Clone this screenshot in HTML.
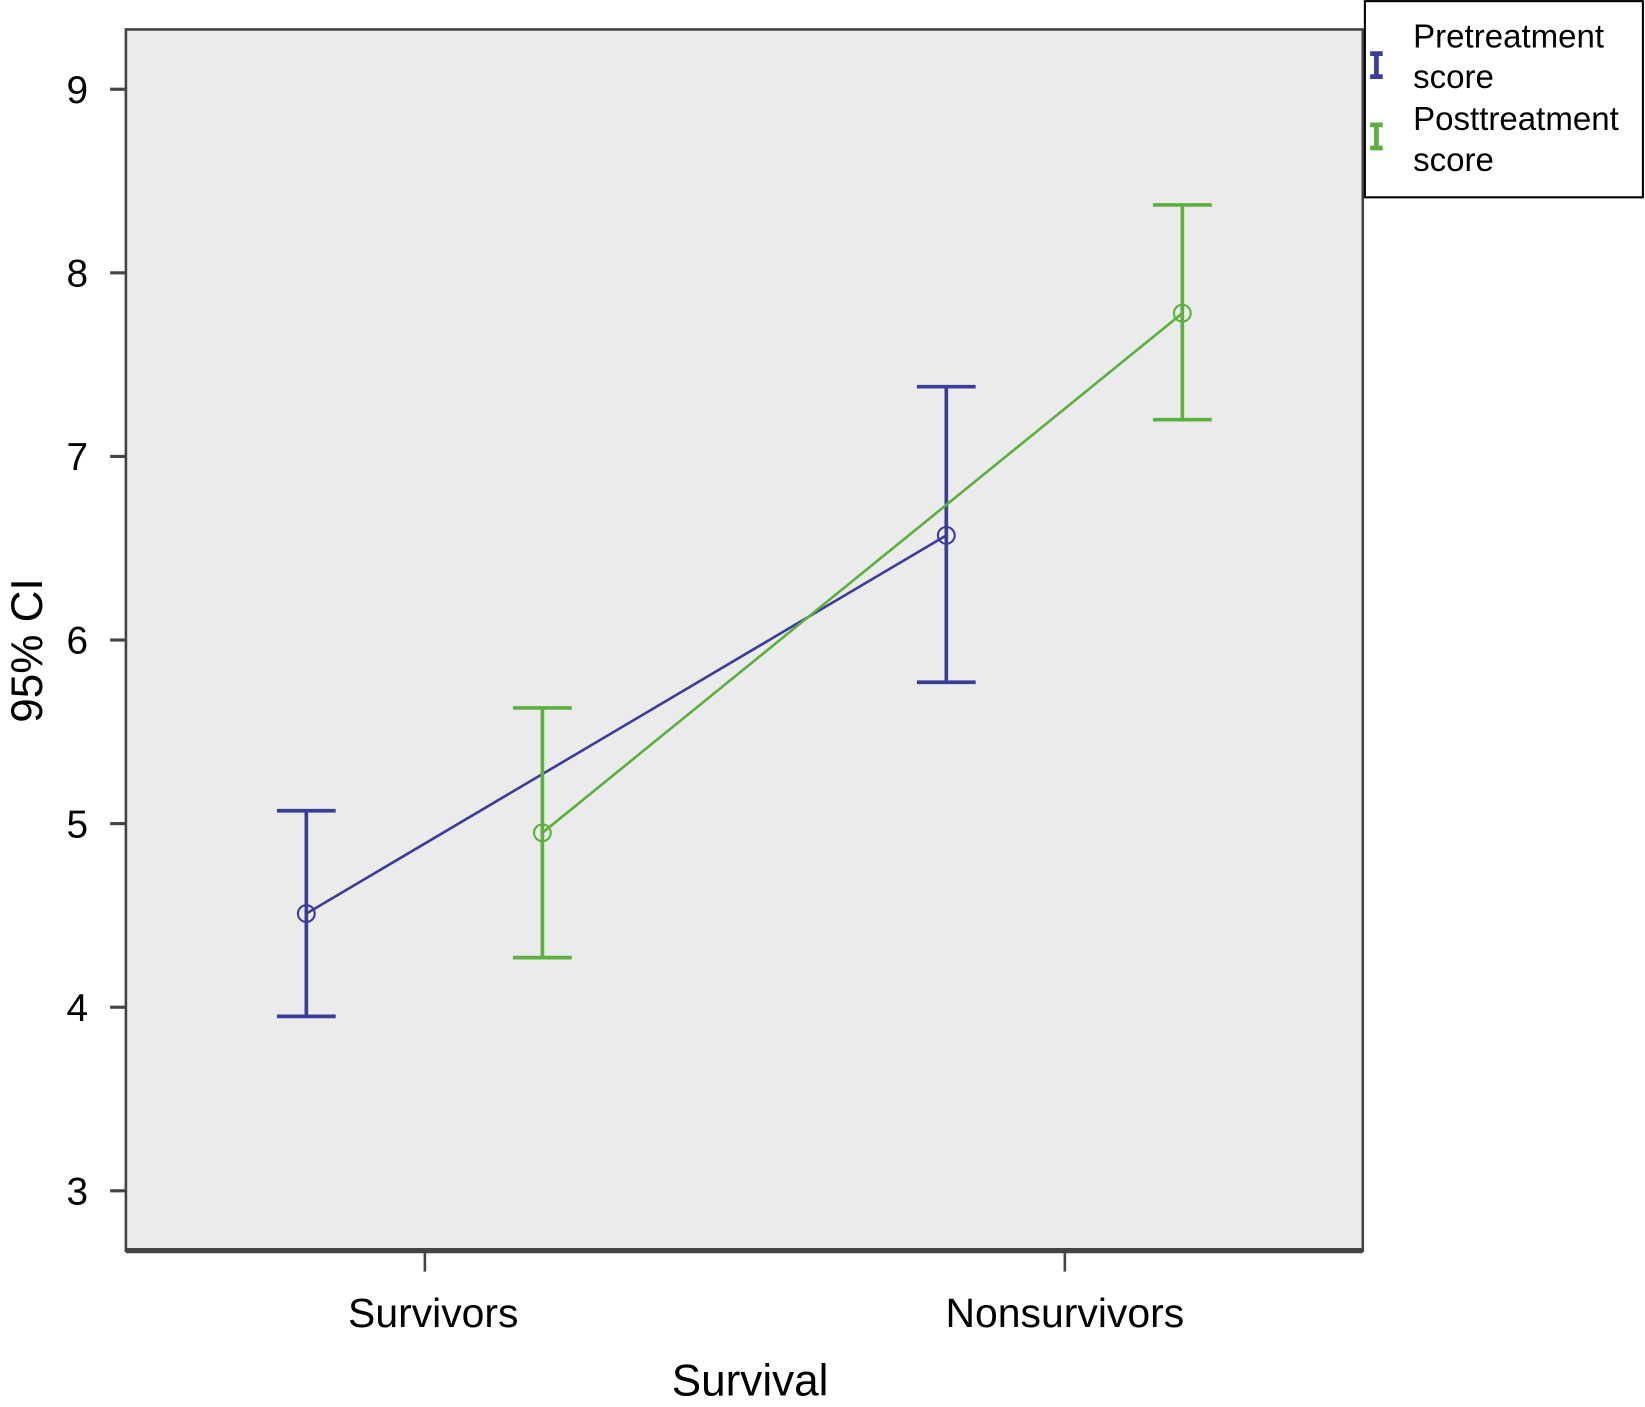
<!DOCTYPE html>
<html><head><meta charset="utf-8"><style>
html,body{margin:0;padding:0;background:#fff;}
svg{display:block;font-family:"Liberation Sans",sans-serif;}
</style></head><body>
<svg id="chart" width="1645" height="1407" viewBox="0 0 1568 1341">
<rect x="120" y="28" width="1179" height="1164" fill="#ebebeb" stroke="#444" stroke-width="2.5"/>
<line x1="120" y1="1192" x2="1299" y2="1192" stroke="#444" stroke-width="5"/>
<g id="yaxis"></g>
<g id="xaxis"></g>
<g id="series"></g>
<text transform="translate(40,620) rotate(-90)" text-anchor="middle" font-size="42">95% CI</text>
<text x="715" y="1330" text-anchor="middle" font-size="42">Survival</text>
<g>
<rect x="1301" y="1" width="265" height="187" fill="#fff" stroke="#000" stroke-width="2"/>
<g>
<path d="M1306 51h12M1312 51v22M1306 73h12" stroke="#3b3d9b" stroke-width="4.5" fill="none"/>
<text x="1347" y="45" font-size="31.5">Pretreatment</text>
<text x="1347" y="84" font-size="31.5">score</text>
</g>
<g>
<path d="M1306 119h12M1312 119v22M1306 141h12" stroke="#5cb040" stroke-width="4.5" fill="none"/>
<text x="1347" y="124" font-size="31.5">Posttreatment</text>
<text x="1347" y="163" font-size="31.5">score</text>
</g>
</g>
</svg>
<script>
const categories = ["Survivors", "Nonsurvivors"];
const yTicks = [3, 4, 5, 6, 7, 8, 9];
const seriesNames = ["Pretreatment score", "Posttreatment score"];
const preMean = [4.51, 6.57];
const preLow = [3.95, 5.77];
const preHigh = [5.07, 7.38];
const postMean = [4.95, 7.78];
const postLow = [4.27, 7.2];
const postHigh = [5.63, 8.37];

const NS = "http://www.w3.org/2000/svg";
function y(v){ return 1135 - (v - 3) * 175; }
function xc(i){ return 405 + i * 610; }
function mk(tag, attrs, parent){ const e = document.createElementNS(NS, tag); for (const k in attrs) e.setAttribute(k, attrs[k]); parent.appendChild(e); return e; }

const ya = document.getElementById('yaxis');
yTicks.forEach(t => {
  const l = mk('line', {x1:105, x2:120, y1:y(t), y2:y(t), stroke:'#444', 'stroke-width':3}, ya);
  
  
  const tx = mk('text', {x:84, y:y(t)+13, 'text-anchor':'end', 'font-size':37}, ya);
  tx.textContent = t;
  
  
});
const xa = document.getElementById('xaxis');
categories.forEach((c, i) => {
  const l = mk('line', {x1:xc(i), x2:xc(i), y1:1192, y2:1212, stroke:'#444', 'stroke-width':2.5}, xa);
  
  
  const tx = mk('text', {x:xc(i) + (i === 0 ? 8 : 0), y:1265, 'text-anchor':'middle', 'font-size':39}, xa);
  tx.textContent = c;
  
  
});

const sg = document.getElementById('series');
const defs = [
  {mean:preMean, low:preLow, high:preHigh, off:-113, color:'#3b3d9b', name:'pretreatment'},
  {mean:postMean, low:postLow, high:postHigh, off:112, color:'#5cb040', name:'posttreatment'}
];
defs.forEach(s => {
  const g = mk('g', {}, sg);
  
  
  const pts = s.mean.map((m, i) => (xc(i)+s.off) + ',' + y(m)).join(' ');
  const pl = mk('polyline', {points:pts, fill:'none', stroke:s.color, 'stroke-width':2.5}, g);
  
  
  s.mean.forEach((m, i) => {
    const x = xc(i) + s.off;
    const hi = y(s.high[i]), lo = y(s.low[i]);
    const p = mk('path', {d:`M${x-28} ${hi}H${x+28}M${x} ${hi}V${lo}M${x-28} ${lo}H${x+28}`, fill:'none', stroke:s.color, 'stroke-width':3.5}, g);
    
    
    const c = mk('circle', {cx:x, cy:y(m), r:8, fill:'none', stroke:s.color, 'stroke-width':2}, g);
    
    
  });
});
</script>
</body></html>
